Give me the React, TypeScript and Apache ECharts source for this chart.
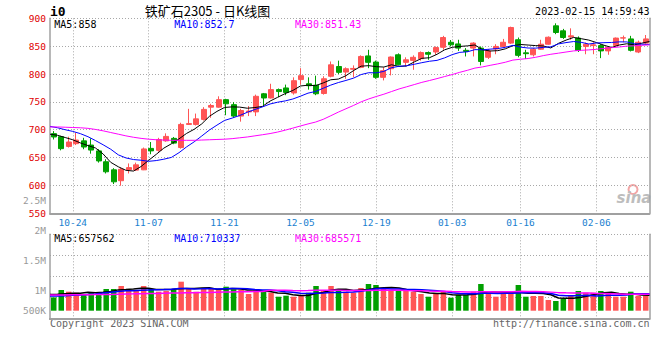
import React, { useEffect, useRef } from 'react';
import * as echarts from 'echarts';

// ---- data ----
const dates = [
  '10-19', '10-20', '10-21', '10-24', '10-25', '10-26', '10-27', '10-28', '10-31', '11-01',
  '11-02', '11-03', '11-04', '11-07', '11-08', '11-09', '11-10', '11-11', '11-14', '11-15',
  '11-16', '11-17', '11-18', '11-21', '11-22', '11-23', '11-24', '11-25', '11-28', '11-29',
  '11-30', '12-01', '12-02', '12-05', '12-06', '12-07', '12-08', '12-09', '12-12', '12-13',
  '12-14', '12-15', '12-16', '12-19', '12-20', '12-21', '12-22', '12-23', '12-26', '12-27',
  '12-28', '12-29', '12-30', '01-03', '01-04', '01-05', '01-06', '01-09', '01-10', '01-11',
  '01-12', '01-13', '01-16', '01-17', '01-18', '01-19', '01-20', '01-30', '01-31', '02-01',
  '02-02', '02-03', '02-06', '02-07', '02-08', '02-09', '02-10', '02-13', '02-14', '02-15',
];
const labeledDates = ['10-24', '11-07', '11-21', '12-05', '12-19', '01-03', '01-16', '02-06'];

const opens = [
  693, 687.5, 670, 675, 680, 672.5, 662, 642.5, 628, 608.5,
  628.5, 627.5, 628, 666.5, 663, 680, 684.5, 668, 709.5, 709.5,
  718.5, 740.5, 740.5, 754, 745, 724.5, 732, 732, 764.5, 757,
  772, 775, 766, 790, 782.5, 780, 765, 796, 813.5, 803.5,
  808.5, 812, 832.5, 821.5, 794, 809.5, 834.5, 821, 824.5, 827.5,
  838.5, 839.5, 848, 857, 854, 842.5, 846.5, 846.5, 830, 845,
  849.5, 855.5, 861.5, 838, 834.5, 844.5, 853.5, 886.5, 877.5, 866.5,
  864.5, 849.5, 851, 851, 841.5, 851, 864.5, 863, 839.5, 855.5,
];
const highs = [
  697.5, 689, 687.5, 694.5, 685.5, 684.5, 665, 647, 631, 632,
  639.5, 641, 668, 678, 685.5, 693.5, 687, 712.5, 737.5, 729,
  740.5, 746.5, 760, 755.5, 749.5, 737.5, 742.5, 763, 766, 782.5,
  774, 781, 794, 810.5, 794, 797, 796, 822.5, 824, 812,
  815.5, 833.5, 843.5, 824, 812, 831.5, 837, 830, 833.5, 840.5,
  840.5, 849.5, 868.5, 861, 861.5, 846.5, 857, 849.5, 844.5, 853.5,
  863, 885, 865.5, 843.5, 846.5, 861.5, 867.5, 891, 881, 882,
  867.5, 856.5, 857, 853.5, 849.5, 865.5, 869, 868.5, 860, 870,
];
const lows = [
  682.5, 663, 668, 672.5, 665, 657, 641, 621.5, 602.5, 599.5,
  621.5, 626, 627.5, 656, 660.5, 678.5, 674, 666, 708.5, 707.5,
  716.5, 721.5, 739.5, 726, 721.5, 714.5, 724.5, 724.5, 744, 756,
  758.5, 762, 763, 781, 772, 762, 763, 794, 800, 791.5,
  794, 810.5, 810.5, 791.5, 788.5, 797.5, 815.5, 813.5, 807.5, 824,
  825.5, 834.5, 843.5, 849.5, 841.5, 831.5, 831.5, 815.5, 827, 835.5,
  847.5, 854, 830, 827, 831.5, 843.5, 852.5, 871.5, 863, 861.5,
  839.5, 835.5, 835.5, 828.5, 834.5, 849.5, 857, 840.5, 837.5, 852.5,
];
const closes = [
  687, 666, 678, 681.5, 669, 663.5, 644, 624.5, 606.5, 629,
  632, 637, 665.5, 662, 682.5, 688, 676, 709.5, 711, 719.5,
  736.5, 743.5, 754, 746.5, 724.5, 734.5, 733.5, 760, 757, 772,
  768.5, 767, 788, 797, 779, 764.5, 791.5, 816.5, 803, 809.5,
  810, 831.5, 821, 794, 806, 830.5, 816.5, 825.5, 830, 838.5,
  835.5, 847.5, 865.5, 852.5, 846.5, 840.5, 855.5, 822.5, 841.5, 849.5,
  857, 883.5, 833.5, 836.5, 844.5, 853.5, 866, 874.5, 865.5, 868.5,
  842.5, 853.5, 852.5, 841.5, 848, 864.5, 865, 842.5, 857, 863,
];
const volumes = [
  563000, 876000, 804000, 761000, 706000, 761000, 761000, 918000, 918000, 1045000,
  846000, 876000, 1045000, 918000, 804000, 833000, 876000, 1227000, 960000, 804000,
  918000, 960000, 876000, 1015000, 901000, 901000, 706000, 876000, 804000, 761000,
  592000, 635000, 592000, 622000, 761000, 1045000, 833000, 1045000, 833000, 804000,
  761000, 960000, 1129000, 1087000, 918000, 833000, 833000, 833000, 804000, 706000,
  592000, 706000, 804000, 550000, 664000, 664000, 804000, 1129000, 732000, 592000,
  706000, 706000, 1087000, 592000, 622000, 622000, 453000, 410000, 520000, 622000,
  833000, 761000, 761000, 833000, 706000, 592000, 592000, 804000, 635000, 635000,
];

// moving-average values for days whose window starts before the first candle
const ma5Head = [692, 690, 686, 682];
const ma10Head = [706, 703.5, 700, 697, 693, 687.5, 680.5, 673, 665];
const ma30Head = [
  705, 705, 704.5, 704, 703.5, 702.5, 700.5, 698, 695, 692,
  689, 686.5, 684.5, 683, 682, 681.5, 681, 681, 681, 681,
  681.5, 682, 682.5, 683, 684, 685.5, 687, 689, 691,
];
const volMa5Head = [690000, 700000, 720000, 735000];
const volMa10Head = [620000, 625000, 635000, 650000, 665000, 690000, 710000, 745000, 780000];
const volMa30Head = [
  665000, 665000, 667000, 670000, 673000, 676000, 680000, 685000, 690000, 697000,
  705000, 712000, 720000, 726000, 732000, 738000, 744000, 750000, 756000, 762000,
  768000, 774000, 780000, 786000, 792000, 798000, 804000, 810000, 815000,
];

const priceLegend = ['MA5:858', 'MA10:852.7', 'MA30:851.43'];
const volumeLegend = ['MA5:657562', 'MA10:710337', 'MA30:685571'];
const volumeTickLabels = ['2.5M', '2M', '1.5M', '1M', '500K'];
const titleText = '铁矿石2305 - 日K线图';
const codeText = 'i0';
const timeText = '2023-02-15 14:59:43';
const footerLeft = 'Copyright 2023 SINA.COM';
const footerRight = 'http://finance.sina.com.cn';

// ---- helpers ----
const calcMA = (vals: number[], n: number, head: number[]) =>
  vals.map((_, i) => {
    if (i < n - 1) return head[i];
    let s = 0;
    for (let k = i - n + 1; k <= i; k++) s += vals[k];
    return +(s / n).toFixed(2);
  });

const UP = '#ff5555';
const DOWN = '#00a000';
const MONO = '"DejaVu Sans Mono", monospace';
const GRID_LINE = { color: '#a8a8a8', type: [1, 2] as number[], width: 1 };
const BORDER = '#a0a0a0';

export default function App() {
  const ref = useRef<HTMLDivElement>(null);

  useEffect(() => {
    if (!ref.current) return;
    const chart = echarts.init(ref.current, undefined, { renderer: 'svg' });
    const labeled = new Set(labeledDates);
    const isLabeled = (i: number) => labeled.has(dates[i]);

    const candleData = dates.map((_, i) => [opens[i], closes[i], lows[i], highs[i]]);
    const volData = volumes.map((v, i) => ({
      value: v,
      itemStyle: { color: closes[i] > opens[i] ? UP : DOWN },
    }));

    const L = 50;
    const W = 599.5;
    const mainTop = 18.3;
    const mainH = 195;
    const volTop = 234.3;
    const volFrameH = 84;
    const volBarsH = 76.4;

    const txt = (text: string, x: number, y: number, fill: string, font: string, align = 'left') => ({
      type: 'text',
      x,
      y,
      silent: true,
      style: { text, fill, font, textAlign: align, textVerticalAlign: 'middle' },
    });

    const volLabelYs = [200.5, 230.7, 260.7, 290.7, 310];

    chart.setOption({
      animation: false,
      backgroundColor: '#ffffff',
      grid: [
        { left: L, top: mainTop, width: W, height: mainH },
        { left: L, top: volTop, width: W, height: volFrameH },
        { left: L, top: volTop, width: W, height: volBarsH },
      ],
      xAxis: [
        { type: 'category', gridIndex: 0, data: dates, boundaryGap: true, show: false },
        {
          type: 'category', gridIndex: 0, data: dates, boundaryGap: false, position: 'bottom',
          axisLine: { show: true, lineStyle: { color: BORDER, width: 2 } },
          axisTick: { show: false },
          axisLabel: {
            show: true, interval: (i: number) => isLabeled(i), color: '#1a7fd0',
            fontSize: 9.5, fontFamily: MONO, margin: 4,
          },
          splitLine: { show: true, interval: (i: number) => isLabeled(i), lineStyle: GRID_LINE },
        },
        {
          type: 'category', gridIndex: 1, data: dates, boundaryGap: false, position: 'bottom',
          axisLine: { show: true, lineStyle: { color: BORDER, width: 2 } },
          axisTick: { show: false },
          axisLabel: { show: false },
          splitLine: { show: true, interval: (i: number) => isLabeled(i), lineStyle: GRID_LINE },
        },
        {
          type: 'category', gridIndex: 1, data: dates, boundaryGap: false, position: 'top',
          axisLine: { show: true, lineStyle: { color: BORDER, width: 2 } },
          axisTick: { show: false },
          axisLabel: { show: false },
          splitLine: { show: false },
        },
        { type: 'category', gridIndex: 2, data: dates, boundaryGap: true, show: false },
        { type: 'category', gridIndex: 2, data: dates, boundaryGap: false, show: false },
      ],
      yAxis: [
        {
          type: 'value', gridIndex: 0, min: 550, max: 900, interval: 50, position: 'left',
          axisLine: { show: true, lineStyle: { color: BORDER, width: 1.5 } },
          axisTick: { show: false },
          axisLabel: { color: '#e00000', fontSize: 9.5, fontFamily: MONO, margin: 4 },
          splitLine: { show: true, lineStyle: GRID_LINE },
        },
        {
          type: 'value', gridIndex: 0, min: 0, max: 1, position: 'right',
          axisLine: { show: true, lineStyle: { color: BORDER, width: 1.5 } },
          axisTick: { show: false }, axisLabel: { show: false }, splitLine: { show: false },
        },
        {
          type: 'value', gridIndex: 1, min: 0, max: 4, interval: 1, position: 'left',
          axisLine: { show: true, lineStyle: { color: BORDER, width: 1.5 } },
          axisTick: { show: false }, axisLabel: { show: false },
          splitLine: { show: true, lineStyle: GRID_LINE },
        },
        {
          type: 'value', gridIndex: 1, min: 0, max: 1, position: 'right',
          axisLine: { show: true, lineStyle: { color: BORDER, width: 1.5 } },
          axisTick: { show: false }, axisLabel: { show: false }, splitLine: { show: false },
        },
        { type: 'value', gridIndex: 2, min: 0, max: 3231720, show: false, splitLine: { show: false } },
      ],
      series: [
        {
          type: 'candlestick', xAxisIndex: 0, yAxisIndex: 0, data: candleData, barWidth: 5.5,
          itemStyle: { color: UP, color0: DOWN, borderColor: UP, borderColor0: DOWN, borderWidth: 1 },
        },
        {
          type: 'line', xAxisIndex: 1, yAxisIndex: 0, data: calcMA(closes, 5, ma5Head),
          symbol: 'none', lineStyle: { color: '#000000', width: 1 },
        },
        {
          type: 'line', xAxisIndex: 1, yAxisIndex: 0, data: calcMA(closes, 10, ma10Head),
          symbol: 'none', lineStyle: { color: '#0000ff', width: 1 },
        },
        {
          type: 'line', xAxisIndex: 1, yAxisIndex: 0, data: calcMA(closes, 30, ma30Head),
          symbol: 'none', lineStyle: { color: '#ff00ff', width: 1 },
        },
        { type: 'bar', xAxisIndex: 4, yAxisIndex: 4, data: volData, barWidth: 5.5 },
        {
          type: 'line', xAxisIndex: 5, yAxisIndex: 4, data: calcMA(volumes, 5, volMa5Head),
          symbol: 'none', lineStyle: { color: '#000000', width: 1.5 },
        },
        {
          type: 'line', xAxisIndex: 5, yAxisIndex: 4, data: calcMA(volumes, 10, volMa10Head),
          symbol: 'none', lineStyle: { color: '#0000ff', width: 1.5 },
        },
        {
          type: 'line', xAxisIndex: 5, yAxisIndex: 4, data: calcMA(volumes, 30, volMa30Head),
          symbol: 'none', lineStyle: { color: '#ff00ff', width: 1.5 },
        },
      ],
      graphic: [
        txt(codeText, 50, 11, '#000000', 'bold 13px ' + MONO),
        txt(titleText, 207.5, 10.5, '#000000', '13px "Noto Sans CJK SC", sans-serif', 'center'),
        txt(timeText, 649.5, 11, '#000000', '10px ' + MONO, 'right'),
        txt(priceLegend[0], 54.3, 24.3, '#000000', '10px ' + MONO),
        txt(priceLegend[1], 174.3, 24.3, '#0000ff', '10px ' + MONO),
        txt(priceLegend[2], 295, 24.3, '#ff00ff', '10px ' + MONO),
        txt(volumeLegend[0], 54.3, 238.5, '#000000', '10px ' + MONO),
        txt(volumeLegend[1], 174.3, 238.5, '#0000ff', '10px ' + MONO),
        txt(volumeLegend[2], 295, 238.5, '#ff00ff', '10px ' + MONO),
        ...volumeTickLabels.map((t, k) => txt(t, 46, volLabelYs[k], '#999999', '9.5px ' + MONO, 'right')),
        txt(footerLeft, 50, 323.3, '#666666', '10px ' + MONO),
        txt(footerRight, 649.5, 323.3, '#666666', '10px ' + MONO, 'right'),
        {
          type: 'circle', silent: true, shape: { cx: 633, cy: 189.5, r: 4.5 },
          style: { fill: 'none', stroke: '#f2a6a6', lineWidth: 2 },
        },
        txt('sina', 634, 198, '#bdbdbd', 'italic bold 15px "DejaVu Sans", sans-serif', 'center'),
      ],
    });

    return () => chart.dispose();
  }, []);

  return (
    <div
      ref={ref}
      style={{ position: 'absolute', left: 0, top: 0, width: 660, height: 360, background: '#fff' }}
    />
  );
}
